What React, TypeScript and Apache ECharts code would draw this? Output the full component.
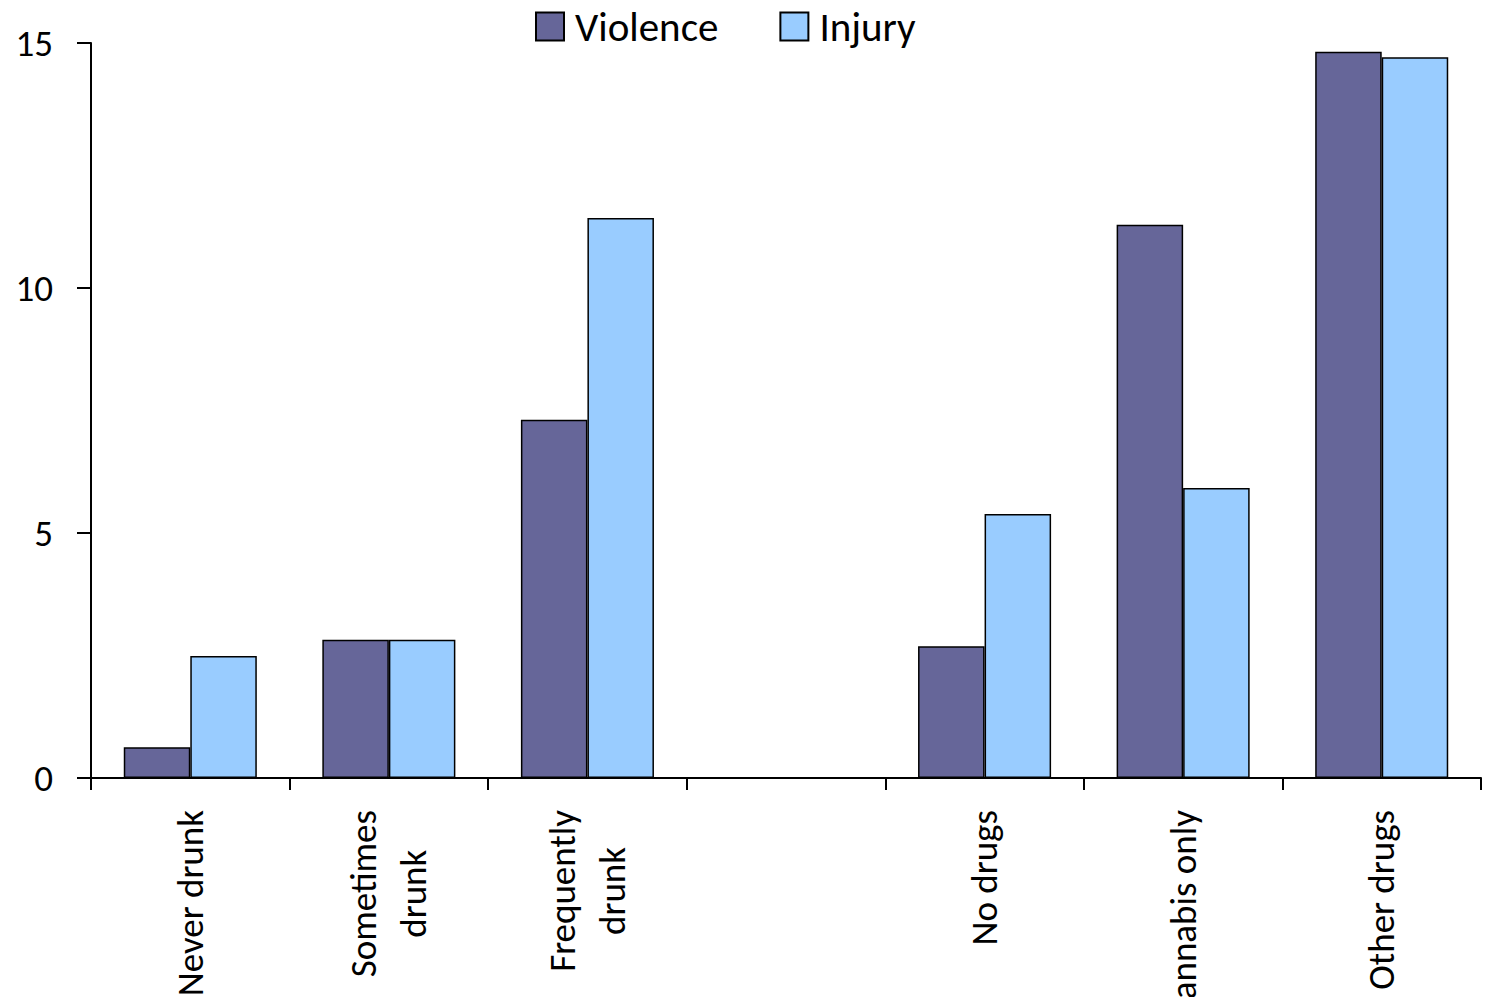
import React, { useEffect, useRef } from "react";
import * as echarts from "echarts";

const categories = ["Never drunk", "Sometimes\ndrunk", "Frequently\ndrunk", "", "No drugs", "Cannabis only", "Other drugs"];
const violence = [0.63, 2.82, 7.31, null, 2.69, 11.29, 14.82];
const injury = [2.49, 2.82, 11.43, null, 5.39, 5.92, 14.71];
const yTicks = { min: 0, max: 15, interval: 5 };

const FONT = "Carlito, Calibri, Lato, sans-serif";

export default function App() {
  const ref = useRef<HTMLDivElement>(null);
  useEffect(() => {
    if (!ref.current) return;
    const chart = echarts.init(ref.current, undefined, { renderer: "svg" });
    chart.setOption({
      animation: false,
      backgroundColor: "#ffffff",
      legend: {
        top: 1,
        left: 530,
        itemWidth: 28,
        itemHeight: 28,
        itemGap: 61,
        icon: "rect",
        textStyle: { fontFamily: FONT, fontSize: 41, color: "#000", padding: [0, 0, 0, 6] },
        data: ["Violence", "Injury"],
      },
      grid: { left: 91, right: 6, top: 43, bottom: 219, containLabel: false, outerBoundsMode: "none" },
      xAxis: {
        type: "category",
        data: categories,
        axisLine: { lineStyle: { color: "#000", width: 2 } },
        axisTick: { show: true, length: 12, lineStyle: { color: "#000", width: 2 } },
        axisLabel: {
          interval: 0,
          rotate: 90,
          margin: 32,
          formatter: (v: string) => v.split("\n").map((s) => `{c|${s}}`).join("\n"),
          rich: {
            c: { fontFamily: FONT, fontSize: 37, color: "#000", align: "center", lineHeight: 50 },
          },
        },
      },
      yAxis: {
        type: "value",
        min: yTicks.min,
        max: yTicks.max,
        interval: yTicks.interval,
        splitLine: { show: false },
        axisLine: { show: true, lineStyle: { color: "#000", width: 2 } },
        axisTick: { show: true, length: 14, lineStyle: { color: "#000", width: 2 } },
        axisLabel: { fontFamily: FONT, fontSize: 37, color: "#000", margin: 38 },
      },
      series: [
        {
          name: "Violence",
          type: "bar",
          data: violence,
          barGap: "0%",
          barCategoryGap: "33%",
          itemStyle: { color: "#666699", borderColor: "#000", borderWidth: 1.5 },
        },
        {
          name: "Injury",
          type: "bar",
          data: injury,
          barGap: "0%",
          barCategoryGap: "33%",
          itemStyle: { color: "#99ccff", borderColor: "#000", borderWidth: 1.5 },
        },
      ],
    });
    return () => chart.dispose();
  }, []);
  return <div ref={ref} style={{ position: "absolute", left: 0, top: 0, width: 1487, height: 997 }} />;
}
